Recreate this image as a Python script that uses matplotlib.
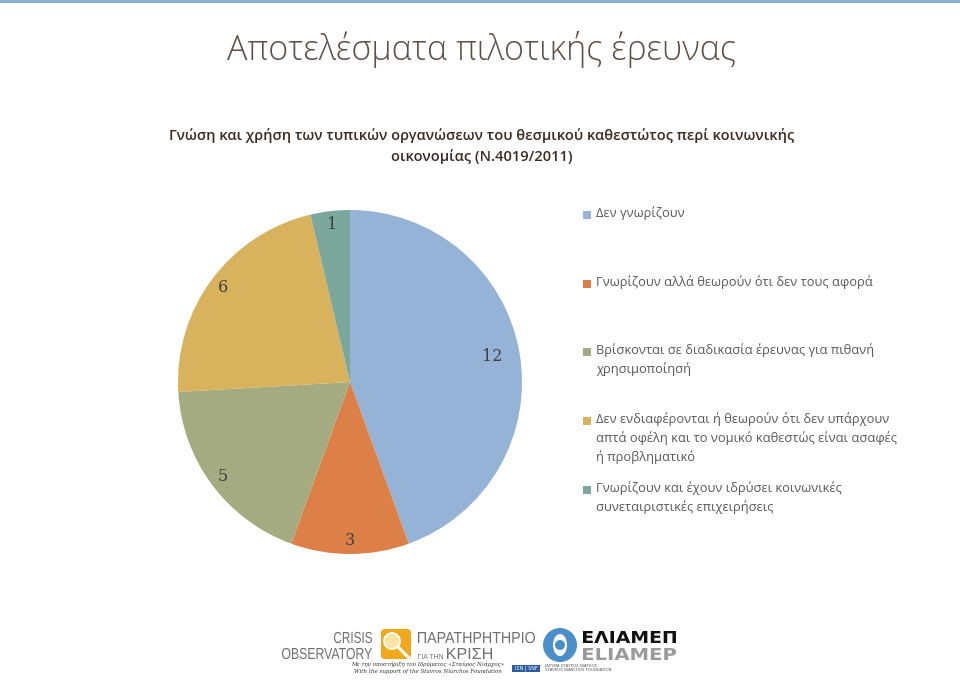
import matplotlib
matplotlib.use("Agg")
import matplotlib.pyplot as plt
from matplotlib.patches import Rectangle, Circle, Ellipse, FancyBboxPatch, PathPatch
from matplotlib.textpath import TextPath
from matplotlib.font_manager import FontProperties
from matplotlib.transforms import Affine2D
import numpy as np

# ---- data ----
categories = [
    "Δεν γνωρίζουν",
    "Γνωρίζουν αλλά θεωρούν ότι δεν τους αφορά",
    "Βρίσκονται σε διαδικασία έρευνας για πιθανή\nχρησιμοποίησή",
    "Δεν ενδιαφέρονται ή θεωρούν ότι δεν υπάρχουν\nαπτά οφέλη και το νομικό καθεστώς είναι ασαφές\nή προβληματικό",
    "Γνωρίζουν και έχουν ιδρύσει κοινωνικές\nσυνεταιριστικές επιχειρήσεις",
]
values = [12, 3, 5, 6, 1]
colors = ["#95B3D7", "#DD8047", "#A5AB81", "#D8B25C", "#7BA79D"]
title = "Αποτελέσματα πιλοτικής έρευνας"
subtitle = "Γνώση και χρήση των τυπικών οργανώσεων του θεσμικού καθεστώτος περί κοινωνικής\nοικονομίας (Ν.4019/2011)"

W, H = 960, 684
fig = plt.figure(figsize=(W / 100, H / 100), dpi=100)
fig.patch.set_facecolor("white")

def fx(x):
    return x / W

def fy(y):
    return 1 - y / H

# background axes in pixel coordinates (y downwards)
bg = fig.add_axes([0, 0, 1, 1])
bg.set_xlim(0, W)
bg.set_ylim(H, 0)
bg.axis("off")
bg.add_patch(Rectangle((0, 0), W, 3, color="#8DAFD2", lw=0))


def squeezed_text(s, x0, x1, baseline, cap, color, family="Liberation Sans", weight="normal"):
    """Draw text as a path fitted to width [x0, x1] with cap height `cap` (px)."""
    fp = FontProperties(family=family, weight=weight)
    tp = TextPath((0, 0), s, size=100, prop=fp)
    ext = tp.get_extents()
    ref = TextPath((0, 0), "H", size=100, prop=fp).get_extents()
    sy = cap / ref.height
    sx = (x1 - x0) / ext.width
    tr = Affine2D().translate(-ext.x0, 0).scale(sx, -sy).translate(x0, baseline)
    bg.add_patch(PathPatch(tr.transform_path(tp), color=color, lw=0))


# title & subtitle
fig.text(fx(482), fy(50), title, ha="center", va="center", fontsize=24.5,
         family="Open Sans", fontweight="light", color="#5E4E45")
fig.text(fx(482), fy(146), subtitle, ha="center", va="center", fontsize=10.55,
         family="Open Sans", fontweight="semibold", color="#3D2B1F",
         linespacing=1.45)

# pie
cx, cy, r = 350, 382, 172
ax = fig.add_axes([fx(cx - r), fy(cy + r), 2 * r / W, 2 * r / H])
wedges, _ = ax.pie(values, colors=colors, startangle=90, counterclock=False,
                   wedgeprops=dict(linewidth=0))
ax.set_xlim(-1, 1)
ax.set_ylim(-1, 1)
ax.set_aspect("auto")
ax.axis("off")
label_r = [0.84, 0.92, 0.92, 0.92, 0.92]
for w, v, lr in zip(wedges, values, label_r):
    ang = np.deg2rad((w.theta1 + w.theta2) / 2)
    ax.text(lr * np.cos(ang), lr * np.sin(ang), str(v), ha="center", va="center",
            fontsize=11.5, family="DejaVu Serif", color="#404040")

# legend
leg_y = [215, 284, 352, 421, 490]
for cat, col, y in zip(categories, colors, leg_y):
    bg.add_patch(Rectangle((583, y - 4), 8, 8, color=col, lw=0))
    bg.text(596, y - 8.5, cat, ha="left", va="top", fontsize=9.3,
            family="Open Sans", color="#595959", linespacing=1.45)

# logos (approximate)
grey = "#707070"
squeezed_text("CRISIS", 334, 372, 643, 11, grey)
squeezed_text("OBSERVATORY", 282, 372, 659, 11, grey)
bg.add_patch(FancyBboxPatch((381, 629), 30, 30, boxstyle="round,pad=0,rounding_size=4",
                            color="#F2A81D", lw=0))
bg.add_patch(Circle((392, 641), 8, facecolor="#FCE3A6", edgecolor="white", lw=1.2))
bg.plot([398, 408], [647, 657], color="white", lw=2.2)
squeezed_text("ΠΑΡΑΤΗΡΗΤΗΡΙΟ", 418, 535, 643, 11, grey)
squeezed_text("ΓΙΑ ΤΗΝ", 418, 443, 659, 5, grey)
squeezed_text("ΚΡΙΣΗ", 447, 492, 659, 11, grey)
bg.text(428, 664, "Με την υποστήριξη του Ιδρύματος «Σταύρος Νιάρχος»", ha="center",
        va="center", fontsize=4, family="DejaVu Serif", style="italic", color="#333333")
bg.text(428, 672, "With the support of the Stavros Niarchos Foundation", ha="center",
        va="center", fontsize=4, family="DejaVu Serif", style="italic", color="#333333")
bg.add_patch(Circle((560, 645), 17, color="#4A8FC8", lw=0))
bg.add_patch(Ellipse((560, 645), 14, 22, color="white", lw=0))
bg.add_patch(Circle((560, 645), 5, color="#4A8FC8", lw=0))
squeezed_text("ΕΛΙΑΜΕΠ", 583, 676, 643, 12, "#111111", family="DejaVu Sans", weight="bold")
squeezed_text("ELIAMEP", 583, 676, 660, 12, "#9A9A9A", family="DejaVu Sans", weight="bold")
bg.add_patch(Rectangle((512, 665), 28, 7, color="#2F5C9E", lw=0))
bg.text(526, 668.5, "ΙΣΝ | SNF", ha="center", va="center", fontsize=3.5,
        family="DejaVu Sans", color="white")
bg.text(545, 666, "ΙΔΡΥΜΑ ΣΤΑΥΡΟΣ ΝΙΑΡΧΟΣ", ha="left", va="center", fontsize=2.8,
        family="DejaVu Sans", color="#555555")
bg.text(545, 670, "STAVROS NIARCHOS FOUNDATION", ha="left", va="center", fontsize=2.8,
        family="DejaVu Sans", color="#555555")

fig.savefig("out.png", dpi=100)
